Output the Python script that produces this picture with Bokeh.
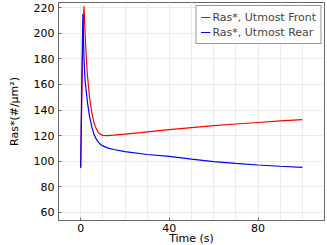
from bokeh.plotting import figure
from bokeh.embed import file_html
from bokeh.resources import INLINE
from bokeh.models import Range1d, FixedTicker, Legend, LegendItem

t_front = [0, 0.5, 1, 1.5, 2, 2.5, 3, 4, 5, 6, 7, 8, 9, 10, 12, 15, 20, 27, 30, 40, 50, 60, 70, 80, 90, 100]
ras_front = [95, 150, 200, 221, 200, 182, 168, 150, 138, 130, 125.5, 122.5, 121, 120.2, 120, 120.4, 121.2, 122.4, 123, 124.7, 126.3, 127.8, 129.1, 130.3, 131.5, 132.5]
t_rear = [0, 0.5, 1, 1.5, 2, 3, 3.6, 4, 5, 6, 7, 8, 9, 10, 12, 15, 20, 30, 40, 50, 60, 70, 80, 90, 100]
ras_rear = [95, 160, 215, 180, 163, 147, 139.5, 135, 127, 121, 117.5, 115, 113, 112, 110.5, 109.2, 107.5, 105.3, 103.8, 101.7, 99.8, 98.3, 97.1, 96.1, 95.3]
x_ticks = [0, 40, 80]
y_ticks = [60, 80, 100, 120, 140, 160, 180, 200, 220]
x_grid = [-10, 0, 10, 20, 30, 40, 50, 60, 70, 80, 90, 100, 110]
FONT = "DejaVu Sans"

p = figure(frame_width=266, frame_height=218, output_backend="svg", toolbar_location=None,
           x_range=Range1d(-10, 110), y_range=Range1d(53.75, 224),
           min_border_left=58, min_border_right=3, min_border_top=2, min_border_bottom=0)

r1 = p.line(t_front, ras_front, color="#ff0000", line_width=1.2)
r2 = p.line(t_rear, ras_rear, color="#0000ff", line_width=1.2)

axcol = "#666666"
p.xaxis.ticker = FixedTicker(ticks=x_ticks)
p.xaxis.axis_label = "Time (s)"
p.yaxis.ticker = FixedTicker(ticks=y_ticks)
p.yaxis.axis_label = "Ras*(#/μm²)"
for ax in list(p.xaxis) + list(p.yaxis):
    ax.major_label_text_font = FONT
    ax.major_label_text_font_size = "11px"
    ax.major_label_text_color = "#000000"
    ax.axis_label_text_font = FONT
    ax.axis_label_text_font_size = "11px"
    ax.axis_label_text_font_style = "normal"
    ax.axis_label_text_color = "#000000"
    ax.axis_line_color = axcol
    ax.major_tick_line_color = axcol
    ax.major_tick_in = 3
    ax.major_tick_out = 0
    ax.minor_tick_line_color = None
p.xaxis.major_label_standoff = 3
p.xaxis.axis_label_standoff = -3
p.yaxis.major_label_standoff = 4
p.yaxis.axis_label_standoff = 10

p.xgrid.ticker = FixedTicker(ticks=x_grid)
p.ygrid.ticker = FixedTicker(ticks=y_ticks)
p.xgrid.grid_line_color = "#ebebeb"
p.ygrid.grid_line_color = "#ebebeb"
p.outline_line_color = axcol

legend = Legend(items=[LegendItem(label="Ras*, Utmost Front", renderers=[r1]),
                       LegendItem(label="Ras*, Utmost Rear", renderers=[r2])],
                location="top_right")
legend.label_text_font = FONT
legend.label_text_font_size = "11px"
legend.border_line_color = "#333333"
legend.border_line_width = 1
legend.glyph_width = 10
legend.glyph_height = 14
legend.label_height = 14
legend.spacing = 1
legend.padding = 4
legend.margin = 3
legend.label_standoff = 2
p.add_layout(legend)

open("out.html", "w").write(file_html(p, INLINE))
